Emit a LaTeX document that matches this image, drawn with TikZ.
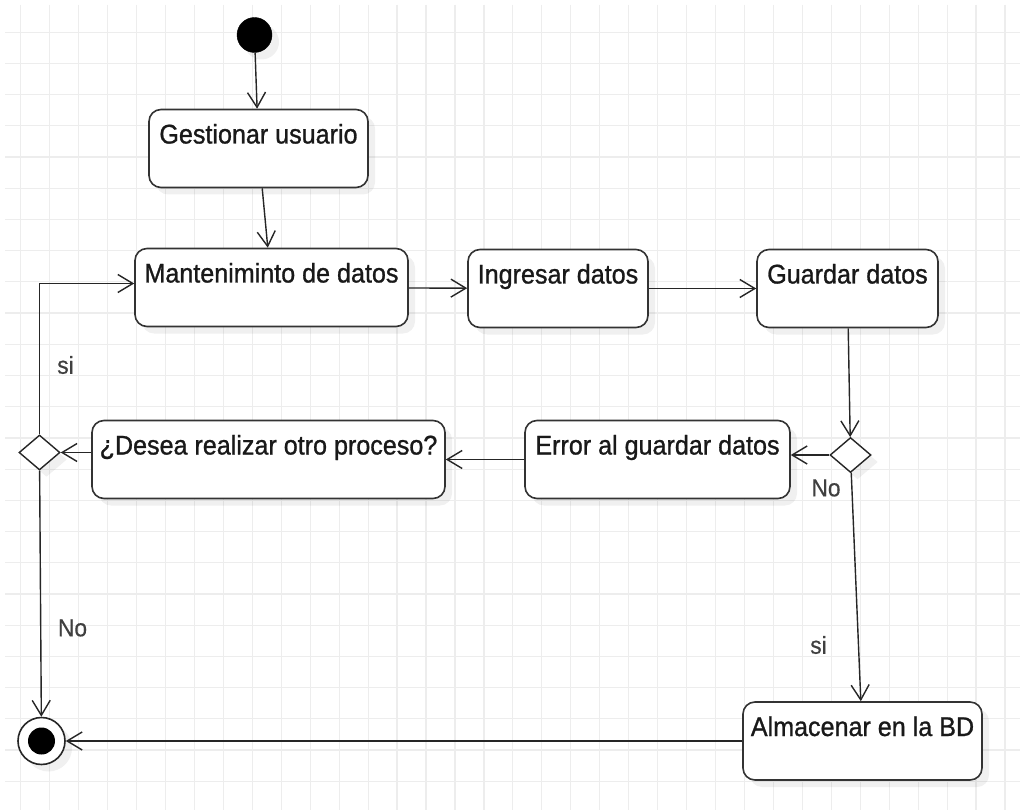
\documentclass[tikz,border=0pt]{standalone}
\usepackage{fontspec}
\setmainfont{Liberation Sans}
\newfontfamily\boxfont[FakeStretch=0.93,FakeBold=1]{Liberation Sans}
\newfontfamily\annotfont[FakeStretch=0.93,FakeBold=0.4]{Liberation Sans}
\usetikzlibrary{arrows.meta}
\usetikzlibrary{shapes,shadows}

\begin{document}
\begin{tikzpicture}[x=1pt,y=-1pt,draw=black!85]
	\def \rowtwoht{288.5}
	\def \rowthreeht{459.5}
	\def \rowfourht{741}
	\tikzstyle{a-node}=[rectangle,rounded corners=12pt,draw=black!80,line width=1.6pt,fill=white,inner xsep=0pt,inner ysep=0pt,text height=34pt,text depth=44pt,font=\boxfont\fontsize{27}{30}\selectfont,text=black!90,drop shadow={shadow xshift=7pt,shadow yshift=-7pt,fill=black,opacity=0.06}]
	\tikzstyle{d-node}=[diamond,draw=black!85,line width=1.4pt,fill=white,inner sep=0pt,minimum width=41pt,minimum height=35pt,drop shadow={shadow xshift=7pt,shadow yshift=-7pt,fill=black,opacity=0.06}]
	\tikzstyle{annot}=[inner sep=0pt,font=\annotfont\fontsize{24.5}{28}\selectfont,text=black!75]
	\tikzstyle{flow}=[-{Straight Barb[length=15pt,width=18pt]},line width=1.4pt,draw=black!85]
	\tikzstyle{gridline}=[draw=black!7,line width=1.2pt]

	% page and grid
	\fill[white] (0,0) rectangle (1020,810);
	\useasboundingbox (0,0) rectangle (1020,810);
	\foreach \i in {0,...,34}
		\draw[gridline] ({20.7+28.95*\i},5) -- ({20.7+28.95*\i},810);
	\foreach \j in {0,...,24}
		\draw[gridline] (5,{32.3+31.2*\j}) -- (1020,{32.3+31.2*\j});

	% start and first activities
	\node[circle,fill=black,draw=black,inner sep=0pt,minimum size=35pt,drop shadow={shadow xshift=7pt,shadow yshift=-7pt,fill=black,opacity=0.06}] (start) at (254.5,35) {};
	\node[a-node,minimum width=219pt] (gest) at (258.5,148.5) {Gestionar usuario};

	% second row
	\node[a-node,minimum width=273pt] (mant) at (271.5,\rowtwoht-1) {Manteniminto de datos};
	\node[a-node,minimum width=180pt] (ingr) at (558,\rowtwoht) {Ingresar datos};
	\node[a-node,minimum width=181pt] (guard) at (847.5,\rowtwoht) {Guardar datos};

	% third row
	\node[d-node] (dL) at (39.5,452.5) {};
	\node[a-node,minimum width=353pt] (desea) at (268.5,\rowthreeht) {¿Desea realizar otro proceso?};
	\node[a-node,minimum width=265pt] (err) at (657.5,\rowthreeht) {Error al guardar datos};
	\node[d-node] (dR) at (850.5,455) {};

	% last row
	\node[circle,draw=black!85,line width=1.6pt,fill=white,inner sep=0pt,minimum size=47pt,drop shadow={shadow xshift=7pt,shadow yshift=-7pt,fill=black,opacity=0.06}] (fin) at (41.5,\rowfourht) {};
	\node[circle,fill=black,inner sep=0pt,minimum size=27pt] (fin-dot) at (fin) {};
	\node[a-node,minimum width=239pt] (alm) at (862.5,\rowfourht) {Almacenar en la BD};

	% guard labels
	\node[annot] (si-left) at (65.5,365) {si};
	\node[annot] (no-left) at (72.5,628) {No};
	\node[annot] (no-right) at (826,488) {No};
	\node[annot] (si-right) at (818.5,645) {si};

	\draw[flow] (start) -- (gest);
	\draw[flow] (gest) -- (mant);
	\draw[flow] (mant) -- (ingr);
	\draw[flow] (ingr) -- (guard);
	\draw[flow] (guard) -- (dR);
	\draw[flow] (dR) -- (dR -| err.east);
	\draw[flow] (err) -- (desea);
	\draw[flow] (desea.west |- dL) -- (dL);
	\draw[flow] (dL) |- ([yshift=4pt]mant.west);
	\draw[flow] (dL) -- (fin);
	\draw[flow] (dR) -- (alm);
	\draw[flow] (alm) -- (fin);
\end{tikzpicture}
\end{document}
